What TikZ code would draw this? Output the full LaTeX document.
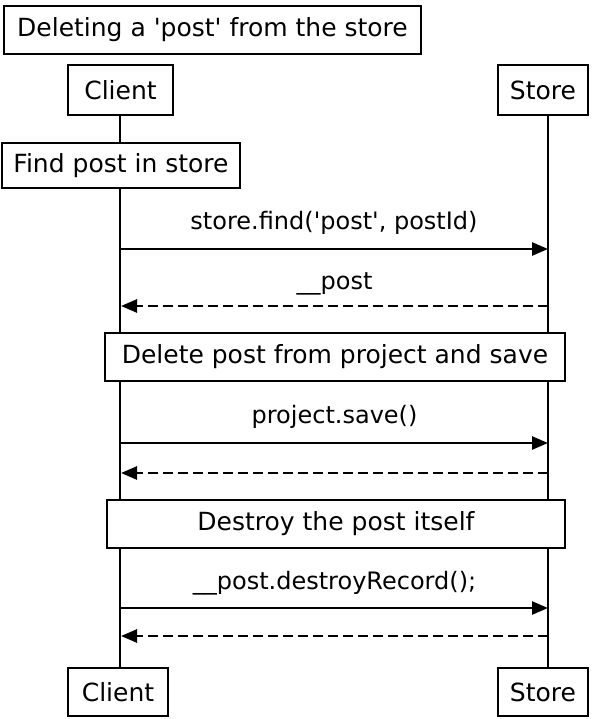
\documentclass[tikz,border=0pt]{standalone}
\usepackage{fontspec}
\setmainfont{DejaVu Sans}
\usetikzlibrary{arrows.meta}
\begin{document}
\begin{tikzpicture}[x=1pt,y=-1pt,
  box/.style={draw=black,fill=white,line width=2.6pt,inner sep=0pt,font=\fontsize{25}{29}\selectfont},
  life/.style={line width=2.6pt},
  msg/.style={line width=2.6pt,-{Triangle[length=16pt,width=13pt]}},
  ret/.style={msg,dashed,dash pattern=on 10pt off 5pt},
  lbl/.style={font=\fontsize{24}{28}\selectfont}]
\useasboundingbox (0,0) rectangle (600,719);
% lifeline anchors
\coordinate (cT) at (120,115);
\coordinate (cB) at (120,668);
\coordinate (sT) at (548,115);
\coordinate (sB) at (548,668);
\draw[life] (cT) -- (cB);
\draw[life] (sT) -- (sB);
% boxes
\node[box,minimum width=417pt,minimum height=48pt] (title) at (212.5,30) {Deleting a \textquotesingle post\textquotesingle{} from the store};
\node[box,minimum width=105pt,minimum height=50pt] (client) at (120.5,90) {Client};
\node[box,minimum width=90pt,minimum height=50pt] (store) at (543,90) {Store};
\node[box,minimum width=238pt,minimum height=45pt] (find) at (121,165.5) {Find post in store};
\node[box,minimum width=460pt,minimum height=48pt] (del) at (335,357) {Delete post from project and save};
\node[box,minimum width=458pt,minimum height=48pt] (destroy) at (336,524) {Destroy the post itself};
\node[box,minimum width=100pt,minimum height=48pt] (client2) at (118,692) {Client};
\node[box,minimum width=90pt,minimum height=48pt] (store2) at (543,692) {Store};
% messages
\coordinate (c1) at (120,249); \coordinate (s1) at (548,249);
\coordinate (c2) at (121,306); \coordinate (s2) at (548,306);
\coordinate (c3) at (121,443); \coordinate (s3) at (548,443);
\coordinate (c4) at (121,473); \coordinate (s4) at (548,473);
\coordinate (c5) at (121,608); \coordinate (s5) at (548,608);
\coordinate (c6) at (121,636); \coordinate (s6) at (548,636);
\draw[msg] (c1) -- node[lbl,above=10pt] (l1) {store.find(\textquotesingle post\textquotesingle, postId)} (s1);
\draw[ret] (s2) -- node[lbl,above=6pt] (l2) {\_\_post} (c2);
\draw[msg] (c3) -- node[lbl,above=10pt] (l3) {project.save()} (s3);
\draw[ret] (s4) -- (c4);
\draw[msg] (c5) -- node[lbl,above=8pt] (l5) {\_\_post.destroyRecord();} (s5);
\draw[ret] (s6) -- (c6);
\end{tikzpicture}
\end{document}
